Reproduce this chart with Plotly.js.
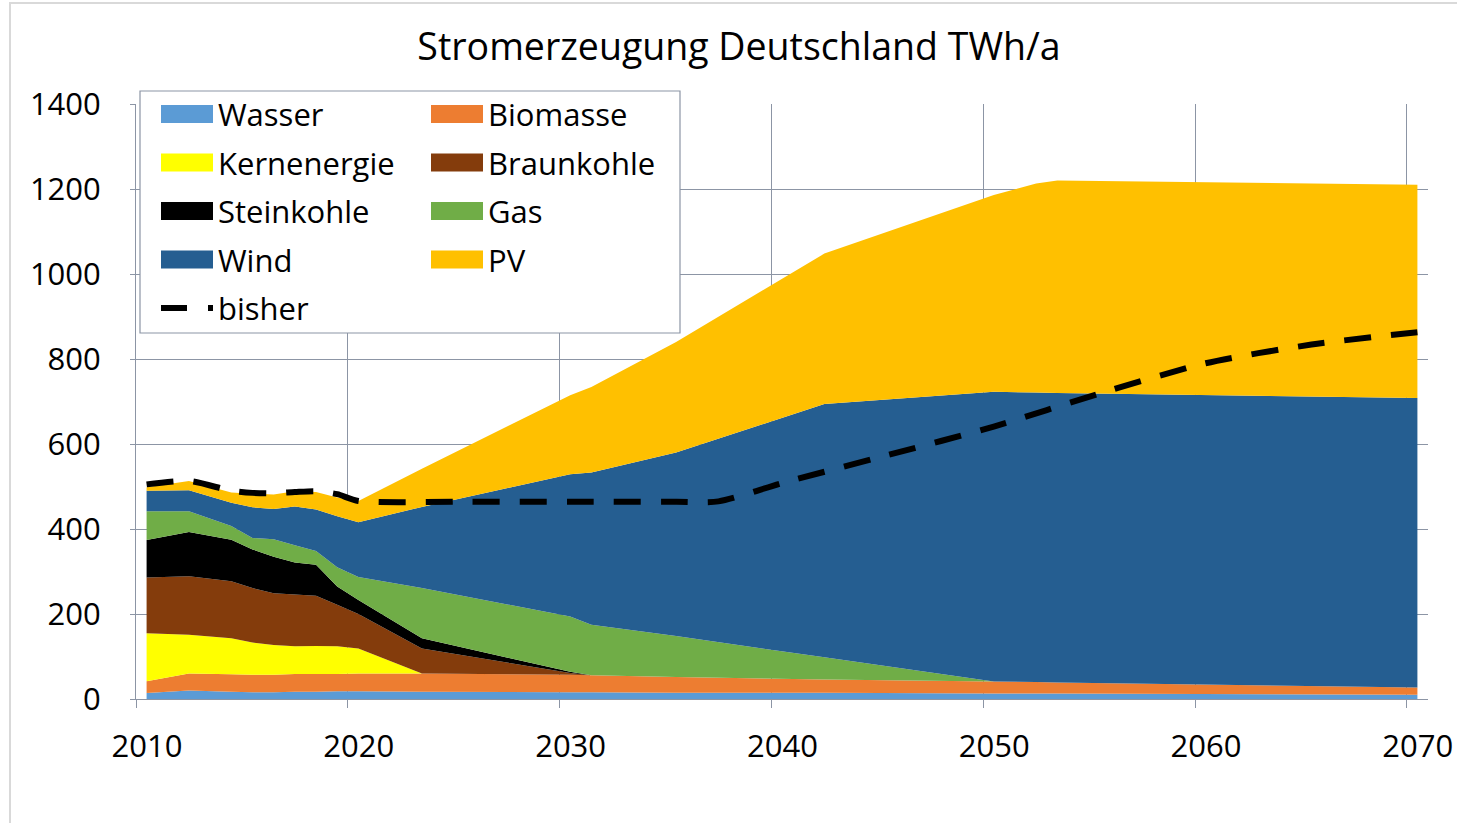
<!DOCTYPE html>
<html>
<head>
<meta charset="utf-8">
<script src="https://cdn.plot.ly/plotly-3.0.1.min.js"></script>
<style>html,body{margin:0;padding:0;background:#fff;}#chart{width:1457px;height:823px;}</style>
</head>
<body>
<div id="chart"></div>
<script>
// ---- data (TWh/a) ----
const years = [2010, 2012, 2014, 2015, 2016, 2017, 2018, 2019, 2020, 2023, 2030, 2031, 2035, 2042, 2050, 2052, 2053, 2070];
const wasser      = [14, 20, 17, 16, 16, 17, 17, 18, 18, 17, 16, 16, 15, 15, 13, 13, 13, 10];
const biomasse    = [28, 40, 41, 41, 41, 42, 42, 41, 42, 43, 41, 40, 37, 31, 28, 27, 26, 17];
const kernenergie = [113, 91, 85, 76, 70, 65, 66, 65, 59, 0, 0, 0, 0, 0, 0, 0, 0, 0];
const braunkohle  = [131, 138, 134, 128, 122, 122, 118, 98, 81, 59, 4, 0, 0, 0, 0, 0, 0, 0];
const steinkohle  = [88, 104, 98, 91, 86, 75, 73, 43, 33, 24, 3, 0, 0, 0, 0, 0, 0, 0];
const gas         = [68, 49, 32, 27, 41, 41, 32, 45, 54, 118, 130, 119, 96, 52, 0, 0, 0, 0];
const wind        = [48, 49, 55, 72, 71, 91, 98, 120, 129, 191, 335, 358, 432, 596, 682, 681, 681, 681];
const pv          = [8, 22, 24, 32, 34, 36, 41, 44, 50, 90, 186, 201, 260, 354, 463, 492, 500, 502];

const bisherYears = [2010, 2012, 2014, 2015, 2016, 2017, 2018, 2019, 2020, 2025, 2030, 2035, 2037, 2040, 2045, 2050, 2055, 2060, 2065, 2070];
const bisher      = [505, 513, 490, 485, 484, 487, 489, 482, 466, 464, 464, 464, 465, 508, 574, 641, 719, 790, 834, 863];

const seriesNames = ['Wasser', 'Biomasse', 'Kernenergie', 'Braunkohle', 'Steinkohle', 'Gas', 'Wind', 'PV'];
const seriesValues = [wasser, biomasse, kernenergie, braunkohle, steinkohle, gas, wind, pv];
const seriesColors = ['#5B9BD5', '#ED7D31', '#FFFF00', '#843C0C', '#000000', '#70AD47', '#255E91', '#FFC000'];
const lineName = 'bisher';
const xTicks = [2010, 2020, 2030, 2040, 2050, 2060, 2070];

// annual values are drawn at mid-year (as in the original spreadsheet chart)
const mid = y => y + 0.5;

const traces = seriesNames.map((n, i) => ({
  type: 'scatter', mode: 'none', name: n,
  x: years.map(mid), y: seriesValues[i],
  stackgroup: 'one', fillcolor: seriesColors[i],
  line: {width: 0}, hoverinfo: 'x+y+name'
}));
traces.push({
  type: 'scatter', mode: 'lines', name: lineName,
  x: bisherYears.map(mid), y: bisher,
  line: {color: '#000', width: 6, dash: '27px,20px', shape: 'spline', smoothing: 0.7}
});

// ---- geometry of plot area (pixels) ----
const L = 136, R = 1428, T = 104, B = 699, W = 1457, H = 823;
const px = x => (x - L) / (R - L);
const py = y => (B - y) / (B - T);

const gridCol = '#8C95A5';
const FONT = 'Open Sans, Liberation Sans, sans-serif';

// custom two-column legend
const shapes = [];
const annotations = [];
shapes.push({type: 'rect', xref: 'paper', yref: 'paper', layer: 'below',
  x0: px(10), x1: px(1475), y0: py(840), y1: py(3), line: {color: '#D9D9D9', width: 2}, fillcolor: 'rgba(0,0,0,0)'});
shapes.push({type: 'rect', xref: 'paper', yref: 'paper', layer: 'above',
  x0: px(140), x1: px(680), y0: py(333), y1: py(91), line: {color: gridCol, width: 1.2}, fillcolor: '#FFFFFF'});
const colX = [161, 431], rowY0 = 114, rowDY = 48.5, swW = 52, swH = 18;
const legendNames = seriesNames.concat([lineName]);
legendNames.forEach((n, i) => {
  const cx = colX[i % 2], cy = rowY0 + Math.floor(i / 2) * rowDY;
  if (i < seriesNames.length) {
    shapes.push({type: 'rect', xref: 'paper', yref: 'paper', layer: 'above',
      x0: px(cx), x1: px(cx + swW), y0: py(cy + swH / 2), y1: py(cy - swH / 2),
      line: {width: 0}, fillcolor: seriesColors[i]});
  } else {
    shapes.push({type: 'line', xref: 'paper', yref: 'paper', layer: 'above',
      x0: px(cx), x1: px(cx + swW), y0: py(cy), y1: py(cy),
      line: {color: '#000', width: 6, dash: '26px,21px'}});
  }
  annotations.push({xref: 'paper', yref: 'paper', x: px(cx + swW + 3), y: py(cy),
    xanchor: 'left', yanchor: 'middle', showarrow: false, text: n,
    font: {family: FONT, size: 31, color: '#000'}});
});

const layout = {
  width: W, height: H,
  margin: {l: L, r: W - R, t: T, b: H - B, pad: 0},
  paper_bgcolor: '#fff', plot_bgcolor: '#fff',
  showlegend: false,
  title: {text: 'Stromerzeugung Deutschland TWh/a', x: 739 / W, xanchor: 'center',
    y: 1 - 47 / H, yanchor: 'middle', yref: 'container',
    font: {family: FONT, size: 37.5, color: '#000'}},
  xaxis: {range: [2010, 2071], tickvals: xTicks, ticktext: xTicks.map(String),
    showgrid: true, gridcolor: gridCol, gridwidth: 1,
    showline: true, linecolor: gridCol, linewidth: 1,
    ticks: 'outside', ticklen: 8, tickcolor: gridCol,
    ticklabelshift: 11, ticklabelstandoff: 12,
    zeroline: false, tickfont: {family: FONT, size: 31, color: '#000'}},
  yaxis: {range: [0, 1400], dtick: 200, tick0: 0,
    showgrid: true, gridcolor: gridCol, gridwidth: 1,
    showline: true, linecolor: gridCol, linewidth: 1,
    ticks: 'outside', ticklen: 5, tickcolor: gridCol,
    ticklabelstandoff: 23,
    zeroline: false, tickfont: {family: FONT, size: 31, color: '#000'}},
  shapes: shapes,
  annotations: annotations
};

Plotly.newPlot('chart', traces, layout, {displayModeBar: false, staticPlot: true});
</script>
</body>
</html>
